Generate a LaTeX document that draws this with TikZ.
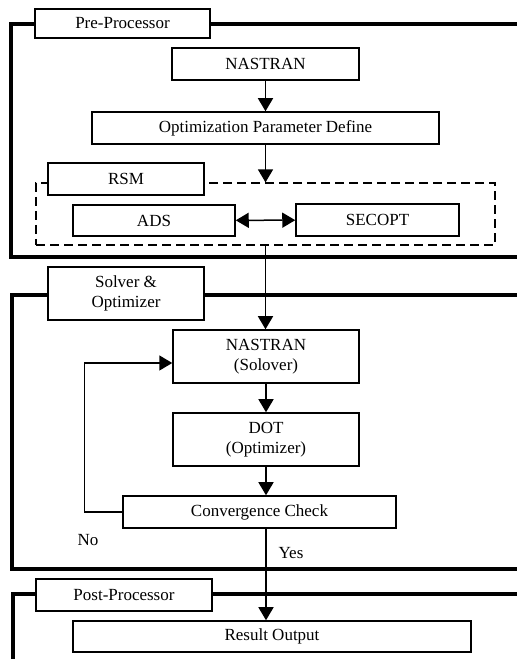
\documentclass[tikz,border=0pt]{standalone}
\usepackage{fontspec}
\setmainfont{Liberation Serif}
\usetikzlibrary{arrows.meta, calc, positioning}
\tikzset{flowarrow/.style={-{Triangle[length=13pt, width=15pt]}, line width=1.5pt}}
\tikzset{twoarrow/.style={{Triangle[length=13pt, width=15pt]}-{Triangle[length=13pt, width=15pt]}, line width=1.5pt}}
\tikzset{stepbox/.style={draw, line width=1.5pt, fill=white, inner sep=0pt, align=center}}
\tikzset{stagebox/.style={stepbox}}
\tikzset{stageframe/.style={line width=4.5pt, line join=miter}}
\tikzset{groupbox/.style={draw, dash pattern=on 9pt off 5pt, line width=1.2pt}}

\begin{document}
\begin{tikzpicture}[x=1pt, y=1pt, font=\fontsize{17}{20}\selectfont]
\useasboundingbox (0,0) rectangle (517,659);

% stage frames
\draw[stageframe] (517,635) -- (11,635) -- (11,402) -- (517,402);
\draw[stageframe] (517,364) -- (12,364) -- (12,90) -- (517,90);
\draw[stageframe] (517,65) -- (13,65) -- (13,0);

% pre-processor
\node[stagebox, minimum width=175, minimum height=29] (pre) at (122.5,635.5) {Pre-Processor};
\node[stepbox, minimum width=187, minimum height=32] (nas1) at (265.5,595) {NASTRAN};
\node[stepbox, minimum width=347, minimum height=32] (opt) at (265.5,531) {Optimization Parameter Define};
\node[groupbox, minimum width=459, minimum height=62] (rsmgrp) at (265.5,445) {};
\node[stepbox, minimum width=156, minimum height=32] (rsm) at (126,480) {RSM};
\node[stepbox, minimum width=162, minimum height=31] (ads) at (154,438.5) {ADS};
\node[stepbox, minimum width=163, minimum height=32] (secopt) at (377.5,439) {SECOPT};

% solver & optimizer
\node[stagebox, minimum width=156, minimum height=53] (solv) at (126,365.5) {Solver \&\\Optimizer};
\node[stepbox, minimum width=186, minimum height=53] (nas2) at (266,302.5) {NASTRAN\\(Solover)};
\node[stepbox, minimum width=186, minimum height=53] (dot) at (266,219.5) {DOT\\(Optimizer)};
\node[stepbox, minimum width=273, minimum height=32] (conv) at (259.5,147) {Convergence Check};
\node (no) at (88,119) {No};
\node (yes) at (291,106) {Yes};

% post-processor
\node[stagebox, minimum width=176, minimum height=32] (post) at (124,64) {Post-Processor};
\node[stepbox, minimum width=398, minimum height=31] (res) at (272,22.5) {Result Output};

% flow
\draw[flowarrow] (nas1) -- (opt);
\draw[flowarrow] (opt) -- (rsmgrp.north);
\draw[twoarrow] (ads) -- (secopt);
\draw[flowarrow] (rsmgrp.south) -- (rsmgrp.south |- nas2.north);
\draw[flowarrow] (nas2) -- (dot);
\draw[flowarrow] (dot.south) -- (dot.south |- conv.north);
\draw[flowarrow] (conv.south -| dot) -- (res.north -| dot);
\draw[flowarrow] (conv.west) -- ++(-38,0) |- ([yshift=-6.5pt]nas2.west);

\end{tikzpicture}
\end{document}
